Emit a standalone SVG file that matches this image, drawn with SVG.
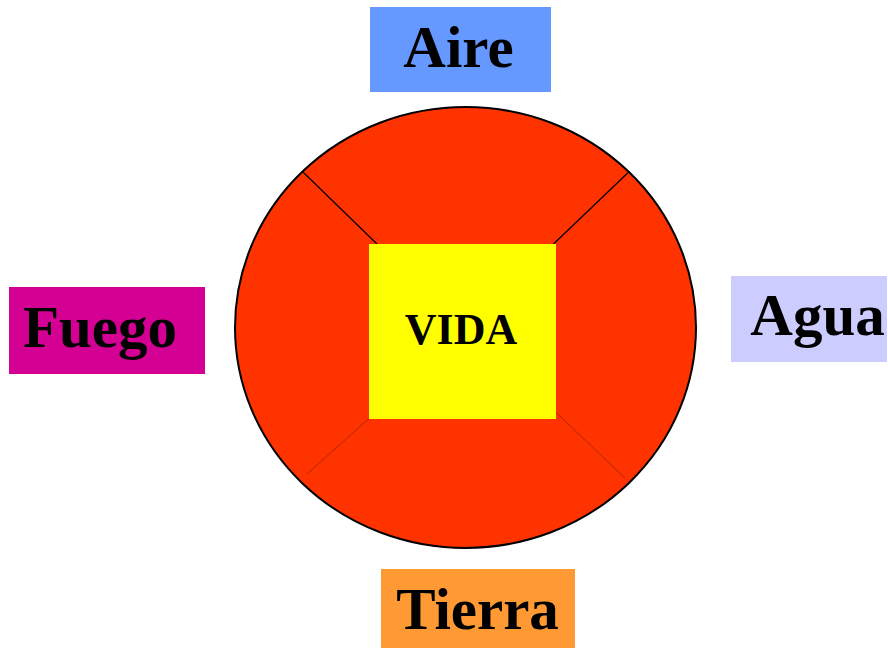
<svg xmlns="http://www.w3.org/2000/svg" width="888" height="649" viewBox="0 0 888 649">
  <style>
    .lbl { font-family: "Liberation Serif", "Times New Roman", serif; font-weight: bold; font-size: 59px; fill: #000; text-anchor: middle; }
    .vida { font-family: "Liberation Serif", "Times New Roman", serif; font-weight: bold; font-size: 44px; fill: #000; text-anchor: middle; }
    .div { stroke: #000; stroke-width: 1.2; }
    .divfaint { stroke: #B02800; stroke-width: 1; }
  </style>
  <rect width="888" height="649" fill="#FFFFFF"/>
  <g id="ring">
    <ellipse cx="465.5" cy="327.5" rx="230.5" ry="220.5" fill="#FF3300" stroke="#000" stroke-width="2"/>
    <line class="div" x1="302.7" y1="171.7" x2="377" y2="244"/>
    <line class="div" x1="629" y1="171.7" x2="553.5" y2="244"/>
    <line class="divfaint" x1="369" y1="418.5" x2="307" y2="474"/>
    <line class="divfaint" x1="555.5" y1="412" x2="625" y2="478"/>
  </g>
  <g id="vida">
    <rect x="369" y="244" width="187" height="175" fill="#FFFF00"/>
    <text class="vida" x="461" y="344">VIDA</text>
  </g>
  <g id="aire">
    <rect x="370" y="7" width="181" height="85" fill="#6699FF"/>
    <text class="lbl" x="458.5" y="67">Aire</text>
  </g>
  <g id="fuego">
    <rect x="9" y="287" width="196" height="87" fill="#D40093"/>
    <text class="lbl" x="100" y="347">Fuego</text>
  </g>
  <g id="agua">
    <rect x="731" y="276" width="156" height="86" fill="#CCCCFF"/>
    <text class="lbl" x="817.5" y="335">Agua</text>
  </g>
  <g id="tierra">
    <rect x="381" y="569" width="194" height="79" fill="#FF9933"/>
    <text class="lbl" x="477.5" y="629">Tierra</text>
  </g>
  <g id="connectors"></g>
</svg>
